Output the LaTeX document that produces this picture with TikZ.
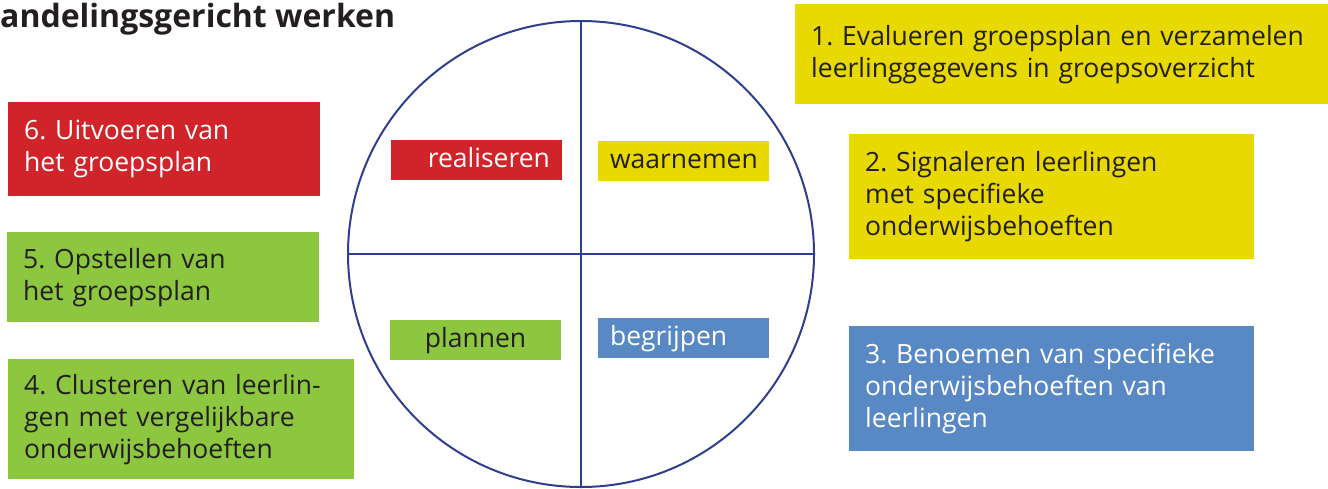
\documentclass[tikz,border=0pt]{standalone}
\usepackage{fontspec}
\setmainfont{Open Sans}
\frenchspacing
\definecolor{rood}{HTML}{D1232A}
\definecolor{geel}{HTML}{E8D900}
\definecolor{groen}{HTML}{8DC63F}
\definecolor{blauw}{HTML}{5889C4}
\definecolor{lijn}{HTML}{2E3F91}
\definecolor{tekst}{HTML}{231F20}
\begin{document}
\begin{tikzpicture}[x=1pt,y=-1pt,text=tekst,
    stap/.style={anchor=north west,inner xsep=16pt,inner ysep=0pt,align=left,
      font=\fontsize{26.5}{32}\selectfont},
    fase/.style={minimum width=171pt,minimum height=40pt,inner xsep=12pt,inner ysep=0pt,
      text width=147pt,text height=19pt,text depth=4pt,font=\fontsize{26.5}{32}\selectfont}]
  \useasboundingbox (0,0) rectangle (1328,488);
  \node[anchor=base west,inner sep=0pt,font=\bfseries\fontsize{32}{36}\selectfont] (titel) at (0,27) {andelingsgericht werken};

  \node[circle,draw=lijn,line width=2pt,outer sep=0pt,minimum size=466pt] (kring) at (581,254) {};
  \draw[lijn,line width=2pt] (kring.north) -- (kring.south);
  \draw[lijn,line width=2pt] (kring.west) -- (kring.east);

  \node[fase,fill=rood,text=white,align=right] (realiseren) at (476.5,160) {realiseren};
  \node[fase,fill=geel,align=left] (waarnemen) at (683.5,161) {waarnemen};
  \node[fase,fill=groen,align=center] (plannen) at (475.5,340) {plannen};
  \node[fase,fill=blauw,text=white,align=left] (begrijpen) at (683.5,338) {begrijpen};

  \node[stap,fill=geel,text width=501pt,minimum height=100pt] (stap1) at (795,4)
    {1. Evalueren groepsplan en verzamelen\\leerlinggegevens in groepsoverzicht};
  \node[stap,fill=geel,text width=373pt,minimum height=125pt] (stap2) at (849,134)
    {2. Signaleren leerlingen\\met specifieke\\onderwijsbehoeften};
  \node[stap,fill=blauw,text=white,text width=373pt,minimum height=125pt] (stap3) at (849,326)
    {3. Benoemen van specifieke\\onderwijsbehoeften van\\leerlingen};
  \node[stap,fill=groen,text width=314pt,minimum height=120pt] (stap4) at (8,359)
    {4. Clusteren van leerlin-\\gen met vergelijkbare\\onderwijsbehoeften};
  \node[stap,fill=groen,text width=280pt,minimum height=90pt] (stap5) at (7,232)
    {5. Opstellen van\\het groepsplan};
  \node[stap,fill=rood,text=white,text width=280pt,minimum height=94pt] (stap6) at (8,102)
    {6. Uitvoeren van\\het groepsplan};
\end{tikzpicture}
\end{document}
